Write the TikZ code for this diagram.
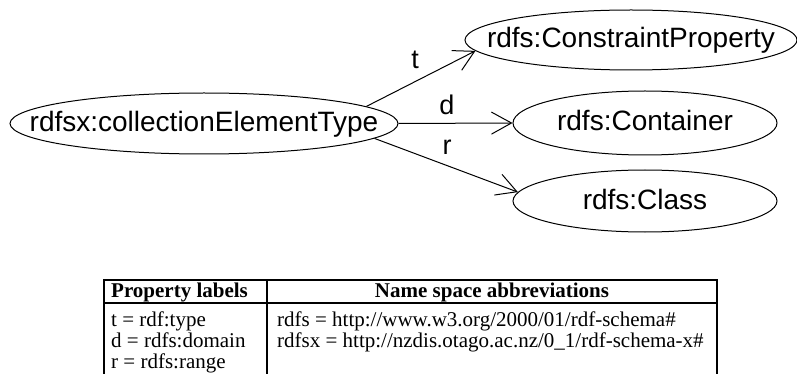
\documentclass[tikz,border=0pt]{standalone}
\usepackage{fontspec}
\setmainfont{Liberation Serif}
\newfontfamily\arialf{Liberation Sans}
\usetikzlibrary{shapes.geometric,arrows.meta}
\newcommand{\elltext}[1]{\raisebox{-8pt}[0pt][0pt]{\makebox[0pt]{#1}}}
\begin{document}
\begin{tikzpicture}[x=1pt,y=-1pt,
  ell/.style={ellipse, draw, line width=1pt, inner sep=0pt, font=\arialf\fontsize{28}{30}\selectfont},
  lab/.style={inner sep=0pt, font=\arialf\fontsize{27}{30}\selectfont},
  arr/.style={line width=1pt, -{Straight Barb[length=20pt,width=22pt]}},
  cell/.style={inner sep=0pt, anchor=base west, font=\fontsize{21}{24}\selectfont},
  hcell/.style={cell, font=\bfseries\fontsize{21}{24}\selectfont},
  tabrule/.style={line width=1.8pt}]
\useasboundingbox (0,0) rectangle (797,374);
\node[ell, minimum width=388pt, minimum height=61pt] (src) at (204,123.5) {\elltext{rdfsx:collectionElementType}};
\node[ell, minimum width=332pt, minimum height=60pt] (cp) at (631,40) {\elltext{rdfs:ConstraintProperty}};
\node[ell, minimum width=264pt, minimum height=64pt] (cont) at (645,123) {\elltext{rdfs:Container}};
\node[ell, minimum width=264pt, minimum height=62pt] (cls) at (645,201) {\elltext{rdfs:Class}};
\draw[arr] (src.6) -- (cp.184);
\draw[arr] (src.east) -- (cont.west);
\draw[arr] (src.-5) -- (cls.176);
\node[lab] (lt) at (415,60) {t};
\node[lab] (ld) at (447,105) {d};
\node[lab] (lr) at (447,147) {r};
% table
\draw[tabrule] (104,280) -- (717,280);
\draw[tabrule] (104,303) -- (717,303);
\draw[tabrule] (104,279.1) -- (104,374);
\draw[tabrule] (267,279.1) -- (267,374);
\draw[tabrule] (717,279.1) -- (717,374);
\node[hcell] (h1) at (111,297) {Property labels};
\node[hcell, anchor=base] (h2) at (492,297) {Name space abbreviations};
\node[cell] (p1) at (111,326) {t = rdf:type};
\node[cell] (p2) at (111,347) {d = rdfs:domain};
\node[cell] (p3) at (111,368) {r = rdfs:range};
\node[cell] (n1) at (277,326) {rdfs = http://www.w3.org/2000/01/rdf-schema\#};
\node[cell] (n2) at (277,347) {rdfsx = http://nzdis.otago.ac.nz/0\_1/rdf-schema-x\#};
\end{tikzpicture}
\end{document}
